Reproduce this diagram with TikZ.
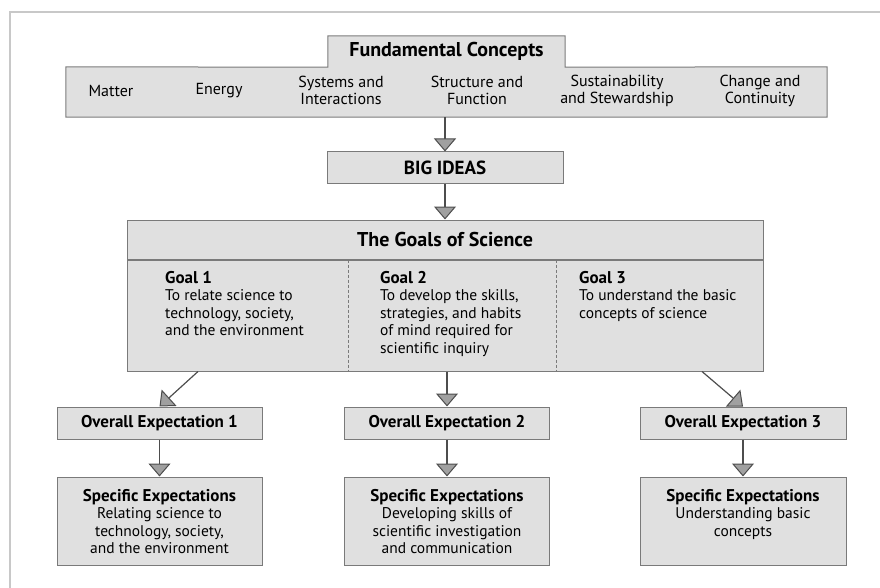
\documentclass[tikz,border=0pt]{standalone}
\usepackage{fontspec}
\setmainfont{PT Sans}
\usetikzlibrary{arrows.meta}
\definecolor{boxfill}{HTML}{E0E0E0}
\definecolor{boxline}{HTML}{7A7A7A}
\definecolor{arrline}{HTML}{4D4D4D}
\definecolor{tipfill}{HTML}{A0A0A0}
\definecolor{framecol}{HTML}{C8C8C8}
% top-aligned stacks of lines, so that anchor=base sits on the first line
\newcommand{\leftstack}[1]{\begin{tabular}[t]{@{}l@{}}#1\end{tabular}}
\newcommand{\midstack}[1]{\begin{tabular}[t]{@{}c@{}}#1\end{tabular}}
\newcommand{\headline}[1]{{\fontsize{17}{17.5}\selectfont\bfseries #1}}
\tikzset{
  box/.style={draw=boxline, fill=boxfill, line width=1pt, inner sep=0pt},
  plain/.style={inner sep=0pt, align=center, font=\fontsize{16}{17}\selectfont},
  goaltext/.style={inner sep=0pt, anchor=base west, font=\fontsize{15.5}{17.5}\selectfont},
  spectext/.style={inner sep=0pt, anchor=base, font=\fontsize{15.5}{17.5}\selectfont},
  bigtitle/.style={font=\fontsize{20}{21}\selectfont\bfseries},
  oetitle/.style={font=\fontsize{17}{18}\selectfont\bfseries},
  flow/.style={draw=arrline, line width=1.2pt,
    -{Triangle[width=22pt, length=13pt, fill=tipfill, line width=1pt]}},
  divider/.style={draw=boxline, line width=0.8pt, dash pattern=on 3pt off 2pt},
}
\begin{document}
\begin{tikzpicture}[x=1pt, y=-1pt]
\useasboundingbox (0,0) rectangle (880,588);
% page frame
\draw[framecol, line width=1.2pt] (10,588) -- (10,12) -- (880,12);

% Fundamental concepts: tab plus bar under one outline
\node[fill=boxfill, minimum width=761pt, minimum height=50pt, inner sep=0pt] (bar) at (446.5,92) {};
\node[fill=boxfill, minimum width=237pt, minimum height=31pt, inner sep=0pt, bigtitle]
  (fc) at (446.5,51.5) {Fundamental Concepts};
\draw[boxline, line width=1pt] (bar.south west) -- (bar.north west) -- (fc.south west)
  -- (fc.north west) -- (fc.north east) -- (fc.south east) -- (bar.north east)
  -- (bar.south east) -- cycle;
\node[plain] (c1) at (111,90.5) {Matter};
\node[plain] (c2) at (219,90.5) {Energy};
\node[plain] (c3) at (341,90.5) {Systems and\\Interactions};
\node[plain] (c4) at (477,90.5) {Structure and\\Function};
\node[plain] (c5) at (617,90.5) {Sustainability\\and Stewardship};
\node[plain] (c6) at (760,90.5) {Change and\\Continuity};

% Big ideas
\node[box, minimum width=236pt, minimum height=32pt, font=\fontsize{19}{20}\selectfont\bfseries]
  (big) at (445,168) {BIG IDEAS};

% Goals of science
\node[box, minimum width=636pt, minimum height=39pt, bigtitle] (gtitle) at (445,239.5) {The Goals of Science};
\node[box, minimum width=636pt, minimum height=111pt, anchor=north] (gbody) at (gtitle.south) {};
\draw[divider] (348,0 |- gbody.north) -- (348,0 |- gbody.south);
\draw[divider] (556,0 |- gbody.north) -- (556,0 |- gbody.south);
\node[goaltext] (g1) at (165,283) {\leftstack{\headline{Goal 1}\\To relate science to\\technology, society,\\and the environment}};
\node[goaltext] (g2) at (380,283) {\leftstack{\headline{Goal 2}\\To develop the skills,\\strategies, and habits\\of mind required for\\scientific inquiry}};
\node[goaltext] (g3) at (579,283) {\leftstack{\headline{Goal 3}\\To understand the basic\\concepts of science}};

% Overall expectations
\node[box, minimum width=205pt, minimum height=32pt, oetitle] (oe1) at (159.5,423) {Overall Expectation 1};
\node[box, minimum width=205pt, minimum height=32pt, oetitle] (oe2) at (447,423) {Overall Expectation 2};
\node[box, minimum width=206pt, minimum height=32pt, oetitle] (oe3) at (743,423) {Overall Expectation 3};

% Specific expectations
\node[box, minimum width=205pt, minimum height=88pt] (se1) at (159.5,521) {};
\node[box, minimum width=205pt, minimum height=88pt] (se2) at (447,521) {};
\node[box, minimum width=206pt, minimum height=88pt] (se3) at (743,521) {};
\node[spectext] (s1) at (159.5,501) {\midstack{\headline{Specific Expectations}\\Relating science to\\technology, society,\\and the environment}};
\node[spectext] (s2) at (447,501) {\midstack{\headline{Specific Expectations}\\Developing skills of\\scientific investigation\\and communication}};
\node[spectext] (s3) at (743,501) {\midstack{\headline{Specific Expectations}\\Understanding basic\\concepts}};

% Connectors
\coordinate (g1out) at (198,0 |- gbody.south);
\coordinate (g3out) at (702,0 |- gbody.south);
\draw[flow] (bar.south -| big.north) -- (big.north);
\draw[flow] (big.south) -- (big.south |- gtitle.north);
\draw[flow] (g1out) -- (oe1.north);
\draw[flow] (oe2.north |- gbody.south) -- (oe2.north);
\draw[flow] (g3out) -- (oe3.north);
\draw[flow] (oe1.south) -- (se1.north);
\draw[flow] (oe2.south) -- (se2.north);
\draw[flow] (oe3.south) -- (se3.north);
\end{tikzpicture}
\end{document}
